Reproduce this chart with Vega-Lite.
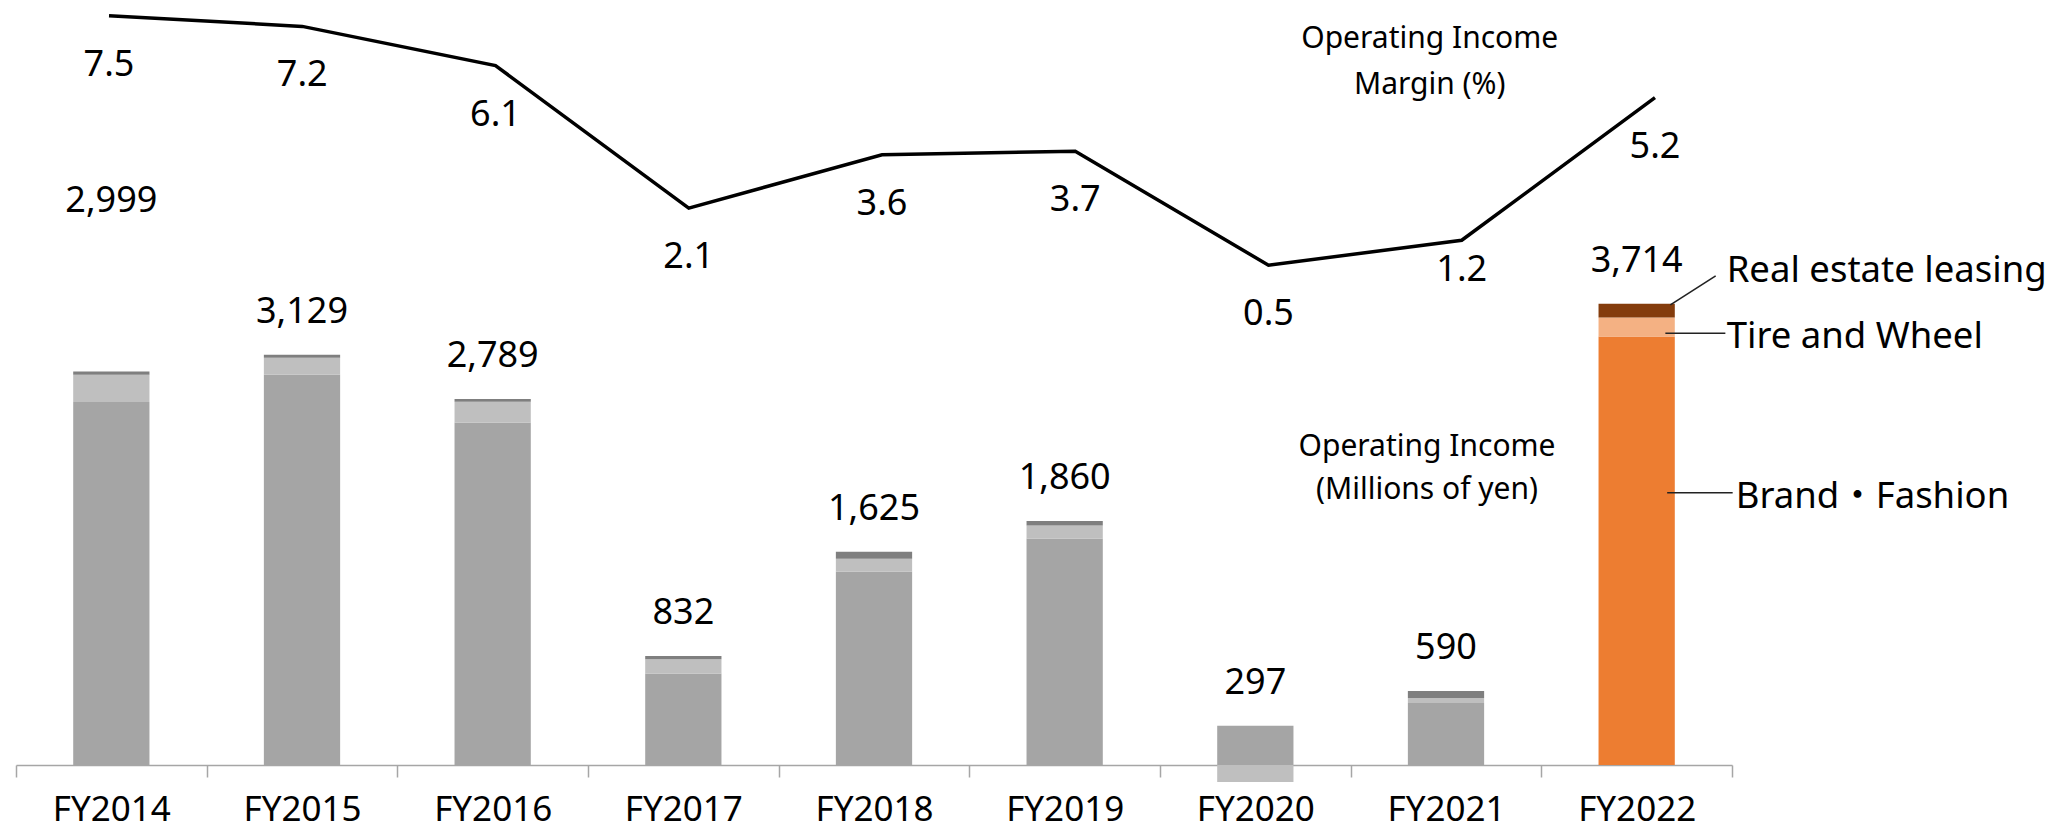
{
  "$schema": "https://vega.github.io/schema/vega-lite/v6.json",
  "width": 1716,
  "height": 765,
  "autosize": {"type": "none"},
  "padding": {"left": 16, "top": 0, "right": 328, "bottom": 65},
  "background": "white",
  "config": {
    "view": {"stroke": null},
    "font": "Noto Sans, Noto Sans CJK JP",
    "text": {"font": "Noto Sans, Noto Sans CJK JP", "color": "black"},
    "axisX": {"labelAngle": 0, "labelFontSize": 35, "labelFont": "Noto Sans", "labelColor": "black", "labelPadding": 15, "domainColor": "#a6a6a6", "domainWidth": 1.5, "tickColor": "#a6a6a6", "tickWidth": 1.5, "tickSize": 12, "tickBand": "extent", "grid": false}
  },
  "datasets": {
    "segments": [
      {"year": "FY2014", "segment": "Brand・Fashion", "rank": 1, "value": 2769},
      {"year": "FY2014", "segment": "Tire and Wheel", "rank": 2, "value": 208},
      {"year": "FY2014", "segment": "Real estate leasing", "rank": 3, "value": 25},
      {"year": "FY2015", "segment": "Brand・Fashion", "rank": 1, "value": 2977},
      {"year": "FY2015", "segment": "Tire and Wheel", "rank": 2, "value": 130},
      {"year": "FY2015", "segment": "Real estate leasing", "rank": 3, "value": 23},
      {"year": "FY2016", "segment": "Brand・Fashion", "rank": 1, "value": 2613},
      {"year": "FY2016", "segment": "Tire and Wheel", "rank": 2, "value": 158},
      {"year": "FY2016", "segment": "Real estate leasing", "rank": 3, "value": 20},
      {"year": "FY2017", "segment": "Brand・Fashion", "rank": 1, "value": 698},
      {"year": "FY2017", "segment": "Tire and Wheel", "rank": 2, "value": 109},
      {"year": "FY2017", "segment": "Real estate leasing", "rank": 3, "value": 25},
      {"year": "FY2018", "segment": "Brand・Fashion", "rank": 1, "value": 1476},
      {"year": "FY2018", "segment": "Tire and Wheel", "rank": 2, "value": 97},
      {"year": "FY2018", "segment": "Real estate leasing", "rank": 3, "value": 53},
      {"year": "FY2019", "segment": "Brand・Fashion", "rank": 1, "value": 1728},
      {"year": "FY2019", "segment": "Tire and Wheel", "rank": 2, "value": 99},
      {"year": "FY2019", "segment": "Real estate leasing", "rank": 3, "value": 34},
      {"year": "FY2020", "segment": "Brand・Fashion", "rank": 1, "value": 300},
      {"year": "FY2020", "segment": "Tire and Wheel", "rank": 2, "value": -130},
      {"year": "FY2020", "segment": "Real estate leasing", "rank": 3, "value": 0},
      {"year": "FY2021", "segment": "Brand・Fashion", "rank": 1, "value": 473},
      {"year": "FY2021", "segment": "Tire and Wheel", "rank": 2, "value": 38},
      {"year": "FY2021", "segment": "Real estate leasing", "rank": 3, "value": 53},
      {"year": "FY2022", "segment": "Brand・Fashion", "rank": 1, "value": 3269},
      {"year": "FY2022", "segment": "Tire and Wheel", "rank": 2, "value": 145},
      {"year": "FY2022", "segment": "Real estate leasing", "rank": 3, "value": 105}
    ],
    "years": [
      {"year": "FY2014", "total": 2999, "margin": 7.5},
      {"year": "FY2015", "total": 3129, "margin": 7.2},
      {"year": "FY2016", "total": 2789, "margin": 6.1},
      {"year": "FY2017", "total": 832, "margin": 2.1},
      {"year": "FY2018", "total": 1625, "margin": 3.6},
      {"year": "FY2019", "total": 1860, "margin": 3.7},
      {"year": "FY2020", "total": 297, "margin": 0.5},
      {"year": "FY2021", "total": 590, "margin": 1.2},
      {"year": "FY2022", "total": 3714, "margin": 5.2}
    ]
  },
  "layer": [
    {
      "data": {"name": "segments"},
      "layer": [
        {
          "transform": [{"filter": "datum.year !== 'FY2022'"}],
          "mark": {"type": "bar", "width": {"band": 0.4}},
          "encoding": {
            "x": {"field": "year", "type": "nominal",
              "scale": {"domain": ["FY2014","FY2015","FY2016","FY2017","FY2018","FY2019","FY2020","FY2021","FY2022"], "paddingInner": 0, "paddingOuter": 0},
              "axis": {"title": null}},
            "y": {"field": "value", "type": "quantitative", "stack": "zero", "scale": {"domain": [0, 5835], "nice": false, "zero": false}, "axis": null},
            "order": {"field": "rank", "type": "quantitative", "sort": "ascending"},
            "color": {"field": "segment", "type": "nominal",
              "scale": {"domain": ["Brand・Fashion", "Tire and Wheel", "Real estate leasing"], "range": ["#a5a5a5", "#bfbfbf", "#7f7f7f"]}, "legend": null}
          }
        },
        {
          "transform": [{"filter": "datum.year === 'FY2022'"}],
          "mark": {"type": "bar", "width": {"band": 0.4}},
          "encoding": {
            "x": {"field": "year", "type": "nominal",
              "scale": {"domain": ["FY2014","FY2015","FY2016","FY2017","FY2018","FY2019","FY2020","FY2021","FY2022"], "paddingInner": 0, "paddingOuter": 0}, "axis": {"title": null}},
            "y": {"field": "value", "type": "quantitative", "stack": "zero", "scale": {"domain": [0, 5835], "nice": false, "zero": false}, "axis": null},
            "order": {"field": "rank", "type": "quantitative", "sort": "ascending"},
            "color": {"field": "segment", "type": "nominal",
              "scale": {"domain": ["Brand・Fashion", "Tire and Wheel", "Real estate leasing"], "range": ["#ed7d31", "#f4b183", "#843c0c"]}, "legend": null}
          }
        },
        {
          "transform": [
            {"filter": "datum.value > 0"},
            {"aggregate": [{"op": "sum", "field": "value", "as": "top"}], "groupby": ["year"]},
            {"lookup": "year", "from": {"data": {"name": "years"}, "key": "year", "fields": ["total"]}},
            {"filter": "datum.year !== 'FY2014'"}
          ],
          "mark": {"type": "text", "fontSize": 36, "baseline": "middle", "align": "center", "dy": -43},
          "encoding": {
            "x": {"field": "year", "type": "nominal", "scale": {"domain": ["FY2014","FY2015","FY2016","FY2017","FY2018","FY2019","FY2020","FY2021","FY2022"], "paddingInner": 0, "paddingOuter": 0}, "axis": {"title": null}},
            "y": {"field": "top", "type": "quantitative", "scale": {"domain": [0, 5835], "nice": false, "zero": false}, "axis": null},
            "text": {"field": "total", "type": "quantitative", "format": ","}
          }
        },
        {
          "transform": [
            {"filter": "datum.value > 0"},
            {"aggregate": [{"op": "sum", "field": "value", "as": "top"}], "groupby": ["year"]},
            {"lookup": "year", "from": {"data": {"name": "years"}, "key": "year", "fields": ["total"]}},
            {"filter": "datum.year === 'FY2014'"}
          ],
          "mark": {"type": "text", "fontSize": 36, "baseline": "middle", "align": "center", "dy": -170},
          "encoding": {
            "x": {"field": "year", "type": "nominal", "scale": {"domain": ["FY2014","FY2015","FY2016","FY2017","FY2018","FY2019","FY2020","FY2021","FY2022"], "paddingInner": 0, "paddingOuter": 0}, "axis": {"title": null}},
            "y": {"field": "top", "type": "quantitative", "scale": {"domain": [0, 5835], "nice": false, "zero": false}, "axis": null},
            "text": {"field": "total", "type": "quantitative", "format": ","}
          }
        },
        {
          "data": {"values": [{}]},
          "mark": {"type": "text", "text": ["Operating Income", "(Millions of yen)"], "fontSize": 30, "align": "center", "baseline": "alphabetic", "lineHeight": 43, "dx": -19},
          "encoding": {
            "x": {"datum": "FY2021", "type": "nominal", "scale": {"domain": ["FY2014","FY2015","FY2016","FY2017","FY2018","FY2019","FY2020","FY2021","FY2022"], "paddingInner": 0, "paddingOuter": 0}, "axis": {"title": null}},
            "y": {"datum": 2357, "type": "quantitative", "scale": {"domain": [0, 5835], "nice": false, "zero": false}, "axis": null}
          }
        },
        {
          "data": {"values": [{}]},
          "mark": {"type": "text", "text": "Real estate leasing", "fontSize": 36.5, "align": "left", "baseline": "alphabetic", "dx": 90},
          "encoding": {
            "x": {"datum": "FY2022", "type": "nominal", "scale": {"domain": ["FY2014","FY2015","FY2016","FY2017","FY2018","FY2019","FY2020","FY2021","FY2022"], "paddingInner": 0, "paddingOuter": 0}, "axis": {"title": null}},
            "y": {"datum": 3684, "type": "quantitative", "scale": {"domain": [0, 5835], "nice": false, "zero": false}, "axis": null}
          }
        },
        {
          "data": {"values": [{}]},
          "mark": {"type": "text", "text": "Tire and Wheel", "fontSize": 36.5, "align": "left", "baseline": "alphabetic", "dx": 90},
          "encoding": {
            "x": {"datum": "FY2022", "type": "nominal", "scale": {"domain": ["FY2014","FY2015","FY2016","FY2017","FY2018","FY2019","FY2020","FY2021","FY2022"], "paddingInner": 0, "paddingOuter": 0}, "axis": {"title": null}},
            "y": {"datum": 3181, "type": "quantitative", "scale": {"domain": [0, 5835], "nice": false, "zero": false}, "axis": null}
          }
        },
        {
          "data": {"values": [{}]},
          "mark": {"type": "text", "text": "Brand・Fashion", "fontSize": 36.5, "align": "left", "baseline": "alphabetic", "dx": 99},
          "encoding": {
            "x": {"datum": "FY2022", "type": "nominal", "scale": {"domain": ["FY2014","FY2015","FY2016","FY2017","FY2018","FY2019","FY2020","FY2021","FY2022"], "paddingInner": 0, "paddingOuter": 0}, "axis": {"title": null}},
            "y": {"datum": 1960, "type": "quantitative", "scale": {"domain": [0, 5835], "nice": false, "zero": false}, "axis": null}
          }
        },
        {
          "data": {"values": [{}]},
          "mark": {"type": "rule", "color": "#222222", "strokeWidth": 1.5, "xOffset": 33.7, "x2Offset": 79},
          "encoding": {
            "x": {"datum": "FY2022", "type": "nominal", "scale": {"domain": ["FY2014","FY2015","FY2016","FY2017","FY2018","FY2019","FY2020","FY2021","FY2022"], "paddingInner": 0, "paddingOuter": 0}, "axis": {"title": null}},
            "x2": {"datum": "FY2022"},
            "y": {"datum": 3509, "type": "quantitative", "scale": {"domain": [0, 5835], "nice": false, "zero": false}, "axis": null},
            "y2": {"datum": 3730}
          }
        },
        {
          "data": {"values": [{}]},
          "mark": {"type": "rule", "color": "#222222", "strokeWidth": 1.5, "xOffset": 28.7, "x2Offset": 88.7},
          "encoding": {
            "x": {"datum": "FY2022", "type": "nominal", "scale": {"domain": ["FY2014","FY2015","FY2016","FY2017","FY2018","FY2019","FY2020","FY2021","FY2022"], "paddingInner": 0, "paddingOuter": 0}, "axis": {"title": null}},
            "x2": {"datum": "FY2022"},
            "y": {"datum": 3293, "type": "quantitative", "scale": {"domain": [0, 5835], "nice": false, "zero": false}, "axis": null}
          }
        },
        {
          "data": {"values": [{}]},
          "mark": {"type": "rule", "color": "#222222", "strokeWidth": 1.5, "xOffset": 30.5, "x2Offset": 96},
          "encoding": {
            "x": {"datum": "FY2022", "type": "nominal", "scale": {"domain": ["FY2014","FY2015","FY2016","FY2017","FY2018","FY2019","FY2020","FY2021","FY2022"], "paddingInner": 0, "paddingOuter": 0}, "axis": {"title": null}},
            "x2": {"datum": "FY2022"},
            "y": {"datum": 2077, "type": "quantitative", "scale": {"domain": [0, 5835], "nice": false, "zero": false}, "axis": null}
          }
        }
      ],
      "resolve": {"scale": {"color": "independent"}}
    },
    {
      "data": {"name": "years"},
      "layer": [
        {
          "mark": {"type": "line", "color": "black", "strokeWidth": 3.5},
          "encoding": {
            "x": {"field": "year", "type": "nominal", "scale": {"type": "point", "domain": ["FY2014","FY2015","FY2016","FY2017","FY2018","FY2019","FY2020","FY2021","FY2022"], "padding": 0.44, "align": 0.547}, "axis": null},
            "y": {"field": "margin", "type": "quantitative", "scale": {"domain": [-13.52, 7.94], "nice": false, "zero": false}, "axis": null}
          }
        },
        {
          "transform": [{"filter": "datum.year !== 'FY2021'"}],
          "mark": {"type": "text", "fontSize": 36, "align": "center", "baseline": "middle", "dy": 49},
          "encoding": {
            "x": {"field": "year", "type": "nominal", "scale": {"type": "point", "domain": ["FY2014","FY2015","FY2016","FY2017","FY2018","FY2019","FY2020","FY2021","FY2022"], "padding": 0.44, "align": 0.547}, "axis": null},
            "y": {"field": "margin", "type": "quantitative", "scale": {"domain": [-13.52, 7.94], "nice": false, "zero": false}, "axis": null},
            "text": {"field": "margin", "type": "quantitative", "format": ".1f"}
          }
        },
        {
          "transform": [{"filter": "datum.year === 'FY2021'"}],
          "mark": {"type": "text", "fontSize": 36, "align": "center", "baseline": "middle", "dy": 30},
          "encoding": {
            "x": {"field": "year", "type": "nominal", "scale": {"type": "point", "domain": ["FY2014","FY2015","FY2016","FY2017","FY2018","FY2019","FY2020","FY2021","FY2022"], "padding": 0.44, "align": 0.547}, "axis": null},
            "y": {"field": "margin", "type": "quantitative", "scale": {"domain": [-13.52, 7.94], "nice": false, "zero": false}, "axis": null},
            "text": {"field": "margin", "type": "quantitative", "format": ".1f"}
          }
        },
        {
          "data": {"values": [{}]},
          "mark": {"type": "text", "text": ["Operating Income", "Margin (%)"], "fontSize": 30, "align": "center", "baseline": "alphabetic", "lineHeight": 46, "dx": -32},
          "encoding": {
            "x": {"datum": "FY2021", "type": "nominal", "scale": {"type": "point", "domain": ["FY2014","FY2015","FY2016","FY2017","FY2018","FY2019","FY2020","FY2021","FY2022"], "padding": 0.44, "align": 0.547}, "axis": null},
            "y": {"datum": 6.607, "type": "quantitative", "scale": {"domain": [-13.52, 7.94], "nice": false, "zero": false}, "axis": null}
          }
        }
      ]
    }
  ],
  "resolve": {"scale": {"x": "independent", "y": "independent"}}
}
